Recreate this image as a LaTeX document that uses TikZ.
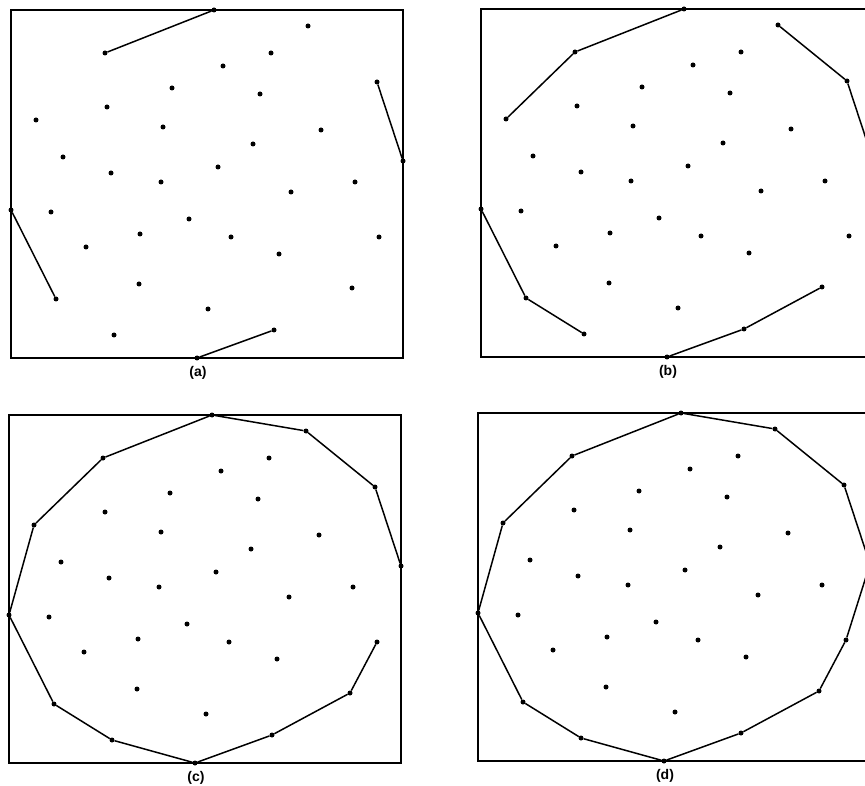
\documentclass[tikz,border=0pt]{standalone}
\usepackage{fontspec}
\setmainfont{Liberation Sans}
\begin{document}
\begin{tikzpicture}[x=1pt,y=-1pt,
  dot/.style={circle,fill=black,inner sep=0pt,minimum size=5pt},
  frame/.style={draw=black,line width=1.8pt},
  hull/.style={draw=black,line width=1.5pt,line join=round},
  lbl/.style={font=\bfseries\fontsize{14}{16}\selectfont,inner sep=0pt}]
\useasboundingbox (0,0) rectangle (865,786);
\clip (0,0) rectangle (865,786);
\foreach \pn/\dx/\dy in {a/0/0, b/470/-1, c/-2/405, d/467/403} {
  \begin{scope}[shift={(\dx,\dy)}]
    \draw[frame] (11,10) rectangle (403,358);
    \node[lbl] (lab\pn) at (198,373) {(\pn)};
    \foreach \x/\y [count=\i] in {214/10, 105/53, 36/120, 11/210, 56/299, 114/335, 197/358, 274/330, 352/288, 379/237, 403/161, 377/82, 308/26, 271/53, 223/66, 172/88, 260/94, 107/107, 163/127, 321/130, 253/144, 63/157, 218/167, 111/173, 161/182, 355/182, 291/192, 51/212, 189/219, 140/234, 231/237, 86/247, 279/254, 139/284, 208/309}
      \node[dot] (\pn\i) at (\x,\y) {};
  \end{scope}
}
% (a)
\draw[hull] (a2) -- (a1);
\draw[hull] (a12) -- (a11);
\draw[hull] (a4) -- (a5);
\draw[hull] (a7) -- (a8);
% (b)
\draw[hull] (b3) -- (b2) -- (b1);
\draw[hull] (b13) -- (b12) -- (b11);
\draw[hull] (b4) -- (b5) -- (b6);
\draw[hull] (b7) -- (b8) -- (b9);
% (c)
\draw[hull] (c11) -- (c12) -- (c13) -- (c1) -- (c2) -- (c3) -- (c4) -- (c5) -- (c6) -- (c7) -- (c8) -- (c9) -- (c10);
% (d)
\draw[hull] (d1) -- (d2) -- (d3) -- (d4) -- (d5) -- (d6) -- (d7) -- (d8) -- (d9) -- (d10) -- (d11) -- (d12) -- (d13) -- (d1);
\end{tikzpicture}
\end{document}
